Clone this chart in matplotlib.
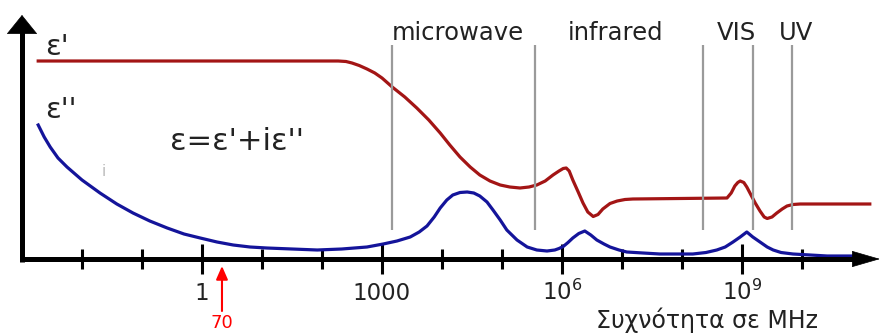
import numpy as np
import matplotlib
matplotlib.use('Agg')
import matplotlib.pyplot as plt
from matplotlib.ticker import FixedLocator, NullFormatter

plt.rcParams['font.family'] = ['DejaVu Sans']

# εκθέτης συχνότητας (log10 MHz) και ύψος καμπύλης (αυθαίρετες μονάδες)
eps1_exp = [-2.73, 2.27, 2.4, 2.5, 2.62, 2.75, 2.88, 3.0, 3.17, 3.38, 3.58, 3.78,
            3.97, 4.13, 4.3, 4.47, 4.63, 4.8, 4.97, 5.13, 5.3, 5.45, 5.58, 5.72,
            5.85, 5.95, 6.02, 6.07, 6.12, 6.18, 6.27, 6.35, 6.43, 6.52, 6.6,
            6.68, 6.8, 6.92, 7.05, 7.18, 8.75, 8.82, 8.88, 8.93, 8.97, 9.03, 9.08,
            9.15, 9.22, 9.3, 9.37, 9.42, 9.5, 9.58, 9.67, 9.75, 9.85, 9.97, 11.13]
eps1_val = [198, 198, 197.5, 196, 193.5, 190, 186, 181, 172, 162, 151, 139,
            126, 114, 102, 92, 84, 78, 74, 72, 71, 72, 74, 78,
            84, 88, 90.5, 91, 88, 79, 67, 56, 47, 42.5, 44.5,
            50, 55.5, 58, 59.5, 60, 61, 66, 73, 76.5, 78, 76.5, 72,
            64, 56, 48, 42, 40.5, 42, 46, 50, 53, 54.5, 55, 55]

eps2_exp = [-2.73, -2.63, -2.53, -2.4, -2.25, -2.0, -1.7, -1.42, -1.15, -0.87,
            -0.58, -0.3, -0.03, 0.25, 0.52, 0.8, 1.08, 1.5, 1.92, 2.33, 2.75,
            3.02, 3.25, 3.47, 3.62, 3.75, 3.87, 3.97, 4.08, 4.18, 4.3, 4.42,
            4.53, 4.63, 4.75, 4.85, 4.97, 5.08, 5.25, 5.42, 5.58, 5.75, 5.88,
            5.95, 6.02, 6.1, 6.18, 6.28, 6.38, 6.48, 6.58, 6.7, 6.8, 6.95, 7.08,
            7.35, 7.63, 8.18, 8.4, 8.58, 8.72, 8.85, 8.97, 9.08, 9.18, 9.3,
            9.42, 9.52, 9.65, 9.85, 10.42, 10.97]
eps2_val = [134, 122, 112, 101, 92, 79, 66, 55, 46, 38,
            31, 25, 21, 17, 14, 12, 11, 10, 9, 10, 12,
            15, 18, 22, 27, 33, 42, 51, 59, 64, 66.5, 67,
            66, 63, 57, 49, 39, 29, 19, 12, 9, 8, 9,
            10.5, 12.5, 16.5, 21, 25.5, 28, 24, 19, 15, 12, 9, 7,
            6, 5, 5, 6.5, 9, 12, 17, 22, 27, 22, 17,
            12, 9, 6.5, 5, 3, 3]

# όρια περιοχών του φάσματος
band_exp = [3.17, 5.55, 8.35, 9.18, 9.83]
band_names = ['microwave', 'infrared', 'VIS', 'UV']
band_label_exp = [4.27, 6.9, 8.9, 9.9]

major_exp = [0, 3, 6, 9]
major_labels = ['1', '1000', '$10^6$', '$10^9$']
minor_exp = [-2, -1, 1, 2, 4, 5, 7, 8, 10]

marked_exp = 0.333   # το κόκκινο βέλος "70"


def f(e):
    return 10.0 ** np.asarray(e, dtype=float)


fig = plt.figure(figsize=(8.83, 3.36), dpi=100)
ax = fig.add_axes([0, 0, 1, 1])
ax.set_xscale('log')
ax.set_xlim(10 ** (-202 / 60), 10 ** ((883 - 202) / 60))
ax.set_ylim(-77, 259)

red = '#a31515'
blue = '#14149a'
txt = '#222222'

ax.plot(f(eps1_exp), eps1_val, color=red, lw=2.3, zorder=3, solid_joinstyle='round')
ax.plot(f(eps2_exp), eps2_val, color=blue, lw=2.3, zorder=3, solid_joinstyle='round')
ax.vlines(f(band_exp), 29, 214, color='#9a9a9a', lw=1.6, zorder=4)

for name, e in zip(band_names, band_label_exp):
    ax.text(f(e), 219, name, ha='center', va='baseline', fontsize=17.5, color=txt)

# άξονες με βέλη
ax.plot([1e-3, 1e-3], [-2.5, 232], color='k', lw=3.6, solid_capstyle='butt', zorder=5)
ax.plot([10 ** -3.04, 10 ** 11.0], [0, 0], color='k', lw=3.6, solid_capstyle='butt', zorder=5)
ax.annotate('', xy=(1e-3, 244), xytext=(1e-3, 220),
            arrowprops=dict(arrowstyle='-|>,head_length=13,head_width=10.5',
                            mutation_scale=1, color='k', lw=0.5, shrinkA=0, shrinkB=0),
            zorder=6)
ax.annotate('', xy=(10 ** 11.3, 0), xytext=(10 ** 10.8, 0),
            arrowprops=dict(arrowstyle='-|>,head_length=19,head_width=5.5',
                            mutation_scale=1, color='k', lw=0.5, shrinkA=0, shrinkB=0),
            zorder=6)

for s in ax.spines.values():
    s.set_visible(False)
ax.spines['bottom'].set_position(('data', 0))
ax.xaxis.set_major_locator(FixedLocator(f(major_exp)))
ax.xaxis.set_minor_locator(FixedLocator(f(minor_exp)))
ax.xaxis.set_minor_formatter(NullFormatter())
ax.set_xticklabels(major_labels)
ax.tick_params(axis='x', which='major', direction='inout', length=21.6, width=2.2,
               pad=19, labelsize=16.5, labelcolor=txt)
ax.tick_params(axis='x', which='minor', direction='inout', length=14.4, width=2.2)
for lbl in ax.get_xticklabels():
    lbl.set_verticalalignment('baseline')
ax.set_yticks([])

ax.text(10 ** -2.62, 204, "ε'", fontsize=21, color=txt, va='baseline')
ax.text(10 ** -2.62, 141, "ε''", fontsize=21, color=txt, va='baseline')
ax.text(10 ** 0.58, 109, "ε=ε'+iε''", fontsize=22, color=txt, ha='center', va='baseline')
ax.text(10 ** -1.633, 87, 'i', fontsize=11, color='#bbbbbb', ha='center', va='center')
ax.text(10 ** 8.42, -69, 'Συχνότητα σε MHz', fontsize=17, color=txt,
        ha='center', va='baseline')

ax.annotate('', xy=(10 ** marked_exp, -7), xytext=(10 ** marked_exp, -52),
            arrowprops=dict(arrowstyle='-|>,head_length=8,head_width=3.5',
                            mutation_scale=1, color='red', lw=1.5, shrinkA=0, shrinkB=0))
ax.text(10 ** marked_exp, -55, '70', fontsize=13, color='red', ha='center', va='top')

fig.savefig('out.png', dpi=100)
